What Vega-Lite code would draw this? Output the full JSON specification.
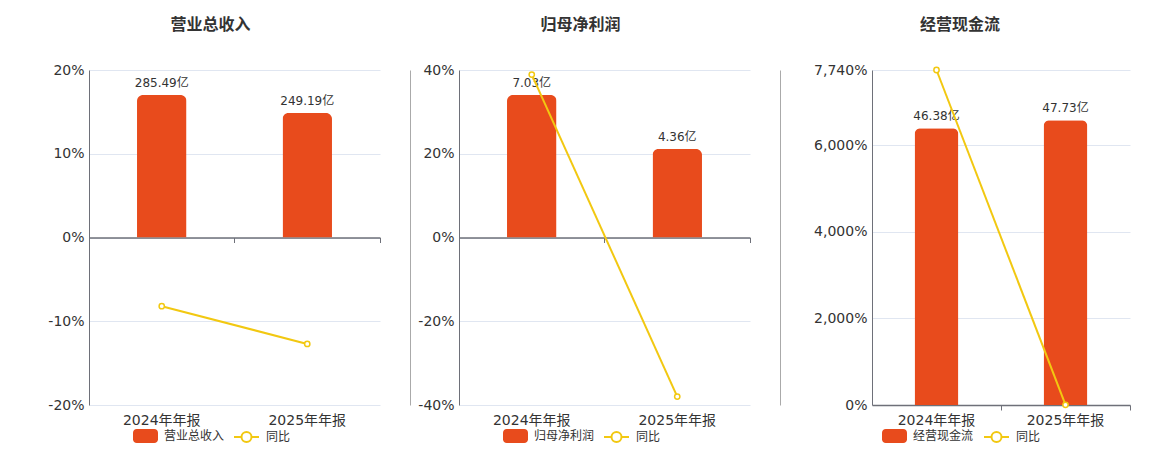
{
  "$schema": "https://vega.github.io/schema/vega-lite/v6.json",
  "background": "white",
  "padding": {"left": 0, "top": 17, "right": 0, "bottom": 0},
  "spacing": 9,
  "config": {
    "view": {"stroke": null},
    "font": "DejaVu Sans, Noto Sans CJK SC",
    "title": {"fontSize": 16, "fontWeight": "bold", "color": "#333333", "font": "Noto Sans CJK SC", "frame": "group", "anchor": "middle", "offset": 30},
    "legend": {"orient": "none", "direction": "horizontal", "title": null, "labelFontSize": 12, "labelColor": "#333333", "symbolSize": 625, "labelOffset": 6, "legendY": 353.5}
  },
  "resolve": {"scale": {"fill": "independent", "stroke": "independent"}, "legend": {"fill": "independent", "stroke": "independent"}},
  "hconcat": [
    {
      "width": 291, "height": 335,
      "title": {"text": "营业总收入", "dx": -24},
      "data": {"values": [
        {"period": "2024年年报", "value": 285.49, "label": "285.49亿", "yoy": -8.2},
        {"period": "2025年年报", "value": 249.19, "label": "249.19亿", "yoy": -12.71}
      ]},
      "resolve": {"scale": {"y": "independent"}, "axis": {"y": "independent", "x": "independent"}},
      "layer": [
        {
          "layer": [
            {"mark": {"type": "bar", "width": {"band": 0.34}, "cornerRadiusTopLeft": 6, "cornerRadiusTopRight": 6},
             "encoding": {
               "x": {"field": "period", "type": "nominal", "sort": null, "scale": {"paddingInner": 0, "paddingOuter": 0},
                     "axis": {"orient": "bottom", "domain": false, "ticks": false, "labelFontSize": 14, "labelColor": "#333333", "labelPadding": 8, "labelAngle": 0, "title": null, "grid": false}},
               "y": {"field": "value", "type": "quantitative", "scale": {"domain": [-335.5, 335.5], "nice": false}, "axis": null},
               "fill": {"datum": "营业总收入", "type": "nominal", "scale": {"range": ["#E84B1C"]},
                 "legend": {"legendX": 44, "symbolType": "M-0.7,-0.56H0.7A0.3,0.3 0 0 1 1,-0.26V0.26A0.3,0.3 0 0 1 0.7,0.56H-0.7A0.3,0.3 0 0 1 -1,0.26V-0.26A0.3,0.3 0 0 1 -0.7,-0.56Z", "symbolStrokeWidth": 0}}
             }},
            {"mark": {"type": "text", "baseline": "bottom", "dy": -5, "fontSize": 12, "color": "#333333"},
             "encoding": {
               "x": {"field": "period", "type": "nominal", "sort": null},
               "y": {"field": "value", "type": "quantitative"},
               "text": {"field": "label"}
             }}
          ]
        },
        {
          "layer": [
            {"mark": {"type": "line", "strokeWidth": 2},
             "encoding": {
               "x": {"field": "period", "type": "nominal", "sort": null,
                     "axis": {"orient": "bottom", "offset": -167.5, "labels": false, "domain": true, "domainColor": "#6E7079", "domainWidth": 1.5, "ticks": true, "tickColor": "#6E7079", "tickSize": 5, "bandPosition": 1, "grid": false, "title": null}},
               "y": {"field": "yoy", "type": "quantitative", "scale": {"domain": [-20, 20], "nice": false},
                     "axis": {"orient": "left", "values": [-20, -10, 0, 10, 20], "labelExpr": "datum.value + '%'", "domain": true, "domainColor": "#6E7079", "ticks": false, "grid": true, "gridColor": "#E0E6F1", "labelFontSize": 14, "labelColor": "#333333", "labelPadding": 5, "minExtent": 89, "maxExtent": 89, "title": null}},
               "stroke": {"datum": "同比", "type": "nominal", "scale": {"range": ["#F2C811"]},
                 "legend": {"legendX": 144, "symbolType": "M-1,0H-0.4M0.4,0H1M0.4,0A0.4,0.4 0 1 1 -0.4,0A0.4,0.4 0 1 1 0.4,0", "symbolStrokeWidth": 2, "symbolFillColor": "white"}}
             }},
            {"mark": {"type": "point", "filled": false, "fill": "white", "strokeWidth": 1.5, "size": 28, "opacity": 1},
             "encoding": {
               "x": {"field": "period", "type": "nominal", "sort": null},
               "y": {"field": "yoy", "type": "quantitative"},
               "stroke": {"datum": "同比", "type": "nominal"}
             }}
          ]
        }
      ]
    },
    {
      "width": 291, "height": 335,
      "title": {"text": "归母净利润", "dx": -24},
      "data": {"values": [
        {"period": "2024年年报", "value": 7.03, "label": "7.03亿", "yoy": 38.9},
        {"period": "2025年年报", "value": 4.36, "label": "4.36亿", "yoy": -37.98}
      ]},
      "resolve": {"scale": {"y": "independent"}, "axis": {"y": "independent", "x": "independent"}},
      "layer": [
        {
          "layer": [
            {"mark": {"type": "bar", "width": {"band": 0.34}, "cornerRadiusTopLeft": 6, "cornerRadiusTopRight": 6},
             "encoding": {
               "x": {"field": "period", "type": "nominal", "sort": null, "scale": {"paddingInner": 0, "paddingOuter": 0},
                     "axis": {"orient": "bottom", "domain": false, "ticks": false, "labelFontSize": 14, "labelColor": "#333333", "labelPadding": 8, "labelAngle": 0, "title": null, "grid": false}},
               "y": {"field": "value", "type": "quantitative", "scale": {"domain": [-8.26, 8.26], "nice": false},
                     "axis": {"orient": "left", "offset": 49, "labels": false, "ticks": false, "grid": false, "domain": true, "domainColor": "#AAAAAA", "minExtent": 0, "maxExtent": 0, "title": null}},
               "fill": {"datum": "归母净利润", "type": "nominal", "scale": {"range": ["#E84B1C"]},
                 "legend": {"legendX": 44, "symbolType": "M-0.7,-0.56H0.7A0.3,0.3 0 0 1 1,-0.26V0.26A0.3,0.3 0 0 1 0.7,0.56H-0.7A0.3,0.3 0 0 1 -1,0.26V-0.26A0.3,0.3 0 0 1 -0.7,-0.56Z", "symbolStrokeWidth": 0}}
             }},
            {"mark": {"type": "text", "baseline": "bottom", "dy": -5, "fontSize": 12, "color": "#333333"},
             "encoding": {
               "x": {"field": "period", "type": "nominal", "sort": null},
               "y": {"field": "value", "type": "quantitative"},
               "text": {"field": "label"}
             }}
          ]
        },
        {
          "layer": [
            {"mark": {"type": "line", "strokeWidth": 2},
             "encoding": {
               "x": {"field": "period", "type": "nominal", "sort": null,
                     "axis": {"orient": "bottom", "offset": -167.5, "labels": false, "domain": true, "domainColor": "#6E7079", "domainWidth": 1.5, "ticks": true, "tickColor": "#6E7079", "tickSize": 5, "bandPosition": 1, "grid": false, "title": null}},
               "y": {"field": "yoy", "type": "quantitative", "scale": {"domain": [-40, 40], "nice": false},
                     "axis": {"orient": "left", "values": [-40, -20, 0, 20, 40], "labelExpr": "datum.value + '%'", "domain": true, "domainColor": "#6E7079", "ticks": false, "grid": true, "gridColor": "#E0E6F1", "labelFontSize": 14, "labelColor": "#333333", "labelPadding": 5, "minExtent": 69, "maxExtent": 69, "title": null}},
               "stroke": {"datum": "同比", "type": "nominal", "scale": {"range": ["#F2C811"]},
                 "legend": {"legendX": 144, "symbolType": "M-1,0H-0.4M0.4,0H1M0.4,0A0.4,0.4 0 1 1 -0.4,0A0.4,0.4 0 1 1 0.4,0", "symbolStrokeWidth": 2, "symbolFillColor": "white"}}
             }},
            {"mark": {"type": "point", "filled": false, "fill": "white", "strokeWidth": 1.5, "size": 28, "opacity": 1},
             "encoding": {
               "x": {"field": "period", "type": "nominal", "sort": null},
               "y": {"field": "yoy", "type": "quantitative"},
               "stroke": {"datum": "同比", "type": "nominal"}
             }}
          ]
        }
      ]
    },
    {
      "width": 258, "height": 335,
      "title": {"text": "经营现金流", "dx": -41},
      "data": {"values": [
        {"period": "2024年年报", "value": 46.38, "label": "46.38亿", "yoy": 7740},
        {"period": "2025年年报", "value": 47.73, "label": "47.73亿", "yoy": 2.91}
      ]},
      "resolve": {"scale": {"y": "independent"}, "axis": {"y": "independent", "x": "independent"}},
      "layer": [
        {
          "layer": [
            {"mark": {"type": "bar", "width": {"band": 0.34}, "cornerRadiusTopLeft": 6, "cornerRadiusTopRight": 6},
             "encoding": {
               "x": {"field": "period", "type": "nominal", "sort": null, "scale": {"paddingInner": 0, "paddingOuter": 0},
                     "axis": {"orient": "bottom", "domain": true, "domainColor": "#6E7079", "domainWidth": 1.5, "ticks": true, "tickColor": "#6E7079", "tickSize": 5, "bandPosition": 1, "labelFontSize": 14, "labelColor": "#333333", "labelPadding": 3, "labelAngle": 0, "title": null, "grid": false}},
               "y": {"field": "value", "type": "quantitative", "scale": {"domain": [0, 56.16], "nice": false},
                     "axis": {"orient": "left", "offset": 92, "labels": false, "ticks": false, "grid": false, "domain": true, "domainColor": "#AAAAAA", "minExtent": 0, "maxExtent": 0, "title": null}},
               "fill": {"datum": "经营现金流", "type": "nominal", "scale": {"range": ["#E84B1C"]},
                 "legend": {"legendX": 10, "symbolType": "M-0.7,-0.56H0.7A0.3,0.3 0 0 1 1,-0.26V0.26A0.3,0.3 0 0 1 0.7,0.56H-0.7A0.3,0.3 0 0 1 -1,0.26V-0.26A0.3,0.3 0 0 1 -0.7,-0.56Z", "symbolStrokeWidth": 0}}
             }},
            {"mark": {"type": "text", "baseline": "bottom", "dy": -5, "fontSize": 12, "color": "#333333"},
             "encoding": {
               "x": {"field": "period", "type": "nominal", "sort": null},
               "y": {"field": "value", "type": "quantitative"},
               "text": {"field": "label"}
             }}
          ]
        },
        {
          "layer": [
            {"mark": {"type": "line", "strokeWidth": 2},
             "encoding": {
               "x": {"field": "period", "type": "nominal", "sort": null, "axis": null},
               "y": {"field": "yoy", "type": "quantitative", "scale": {"domain": [0, 7740], "nice": false},
                     "axis": {"orient": "left", "values": [0, 2000, 4000, 6000, 7740], "labelExpr": "format(datum.value, ',') + '%'", "domain": true, "domainColor": "#6E7079", "ticks": false, "grid": true, "gridColor": "#E0E6F1", "labelFontSize": 14, "labelColor": "#333333", "labelPadding": 5, "minExtent": 112, "maxExtent": 112, "title": null}},
               "stroke": {"datum": "同比", "type": "nominal", "scale": {"range": ["#F2C811"]},
                 "legend": {"legendX": 111, "symbolType": "M-1,0H-0.4M0.4,0H1M0.4,0A0.4,0.4 0 1 1 -0.4,0A0.4,0.4 0 1 1 0.4,0", "symbolStrokeWidth": 2, "symbolFillColor": "white"}}
             }},
            {"mark": {"type": "point", "filled": false, "fill": "white", "strokeWidth": 1.5, "size": 28, "opacity": 1},
             "encoding": {
               "x": {"field": "period", "type": "nominal", "sort": null, "axis": null},
               "y": {"field": "yoy", "type": "quantitative"},
               "stroke": {"datum": "同比", "type": "nominal"}
             }}
          ]
        }
      ]
    }
  ]
}
